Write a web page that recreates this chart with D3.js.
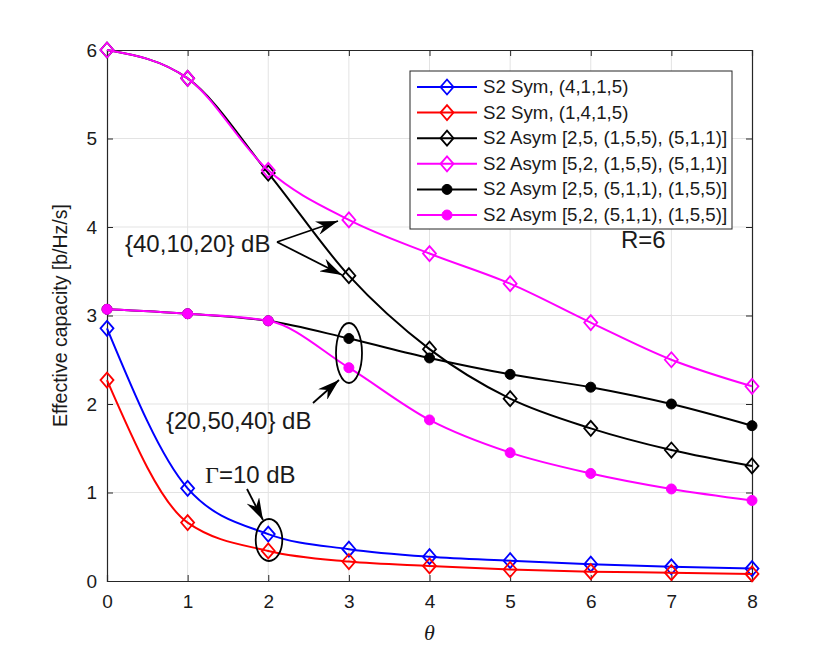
<!DOCTYPE html>
<html>
<head>
<meta charset="UTF-8">
<title>Effective capacity vs theta</title>
<script src="https://cdn.jsdelivr.net/npm/d3@7"></script>
<style>
  body { margin: 0; background: #fff; }
  text { font-family: "Liberation Sans", Arial, sans-serif; fill: #1a1a1a; }
</style>
</head>
<body>
<script>
// data
var theta = [0, 1, 2, 3, 4, 5, 6, 7, 8];
var symA  = [2.855, 1.047, 0.53, 0.36, 0.275, 0.23, 0.19, 0.16, 0.14];   // S2 Sym (4,1,1,5)
var symB  = [2.27, 0.66, 0.34, 0.22, 0.17, 0.13, 0.105, 0.094, 0.08];    // S2 Sym (1,4,1,5)
var asym1 = [6.0, 5.68, 4.61, 3.45, 2.62, 2.06, 1.725, 1.48, 1.30];      // black diamond
var asym2 = [6.0, 5.68, 4.64, 4.08, 3.70, 3.36, 2.92, 2.50, 2.20];       // magenta diamond
var asym3 = [3.07, 3.02, 2.94, 2.74, 2.52, 2.335, 2.19, 2.00, 1.755];    // black dot
var asym4 = [3.07, 3.02, 2.94, 2.41, 1.82, 1.45, 1.215, 1.04, 0.91];     // magenta dot
var xTicks = [0, 1, 2, 3, 4, 5, 6, 7, 8];
var yTicks = [0, 1, 2, 3, 4, 5, 6];

var series = [
  {name: "S2 Sym, (4,1,1,5)", vals: symA, color: "#0000ff", mark: "diamond"},
  {name: "S2 Sym, (1,4,1,5)", vals: symB, color: "#ff0000", mark: "diamond"},
  {name: "S2 Asym [2,5, (1,5,5), (5,1,1)]", vals: asym1, color: "#000000", mark: "diamond"},
  {name: "S2 Asym [5,2, (1,5,5), (5,1,1)]", vals: asym2, color: "#ff00ff", mark: "diamond"},
  {name: "S2 Asym [2,5, (5,1,1), (1,5,5)]", vals: asym3, color: "#000000", mark: "dot"},
  {name: "S2 Asym [5,2, (5,1,1), (1,5,5)]", vals: asym4, color: "#ff00ff", mark: "dot"}
];

var W = 830, H = 652;
var m = {left: 107, right: 78, top: 50, bottom: 71};
var iw = W - m.left - m.right, ih = H - m.top - m.bottom;

var svg = d3.select("body").append("svg")
  .attr("width", W).attr("height", H);

// arrow head, MATLAB "vback2" look
svg.append("defs").append("marker")
  .attr("id", "ah")
  .attr("viewBox", "0 0 22 14")
  .attr("refX", 22).attr("refY", 7)
  .attr("markerWidth", 22).attr("markerHeight", 14)
  .attr("markerUnits", "userSpaceOnUse")
  .attr("orient", "auto")
  .append("path")
  .attr("d", "M0,0 L22,7 L0,14 L7,7 Z")
  .attr("fill", "#000");

var x = d3.scaleLinear().domain([0, 8]).range([0, iw]);
var y = d3.scaleLinear().domain([0, 6]).range([ih, 0]);

var g = svg.append("g").attr("transform", "translate(" + m.left + "," + m.top + ")");

// grid
g.append("g").selectAll("line").data(xTicks.slice(1, -1)).enter().append("line")
  .attr("x1", function(d){ return x(d); }).attr("x2", function(d){ return x(d); })
  .attr("y1", 0).attr("y2", ih)
  .attr("stroke", "#e3e3e3").attr("stroke-width", 1);
g.append("g").selectAll("line").data(yTicks.slice(1, -1)).enter().append("line")
  .attr("y1", function(d){ return y(d); }).attr("y2", function(d){ return y(d); })
  .attr("x1", 0).attr("x2", iw)
  .attr("stroke", "#e3e3e3").attr("stroke-width", 1);

// axes (ticks inside, box on)
var axB = g.append("g").attr("transform", "translate(0," + ih + ")")
  .call(d3.axisBottom(x).tickValues(xTicks).tickSize(-6).tickPadding(14).tickFormat(d3.format("d")));
var axL = g.append("g")
  .call(d3.axisLeft(y).tickValues(yTicks).tickSize(-6).tickPadding(10).tickFormat(d3.format("d")));
var axT = g.append("g")
  .call(d3.axisTop(x).tickValues(xTicks).tickSize(-6).tickFormat(""));
var axR = g.append("g").attr("transform", "translate(" + iw + ",0)")
  .call(d3.axisRight(y).tickValues(yTicks).tickSize(-6).tickFormat(""));
[axB, axL, axT, axR].forEach(function(a){
  a.select(".domain").attr("stroke", "#262626").attr("stroke-width", 1.2);
  a.selectAll(".tick line").attr("stroke", "#262626");
  a.selectAll(".tick text").attr("font-size", 19).attr("fill", "#262626")
    .style("font-family", "'Liberation Sans', Arial, sans-serif");
});

// lines
var line = d3.line()
  .x(function(d, i){ return x(theta[i]); })
  .y(function(d){ return y(d); })
  .curve(d3.curveMonotoneX);

function drawMarker(sel, mark, color, cx, cy) {
  if (mark === "diamond") {
    sel.append("path")
      .attr("d", "M" + cx + "," + (cy - 7.5) + " L" + (cx + 6.5) + "," + cy +
                 " L" + cx + "," + (cy + 7.5) + " L" + (cx - 6.5) + "," + cy + " Z")
      .attr("fill", "none").attr("stroke", color).attr("stroke-width", 1.8);
  } else {
    sel.append("circle").attr("cx", cx).attr("cy", cy).attr("r", 5)
      .attr("fill", color).attr("stroke", color);
  }
}

series.forEach(function(s){
  var sg = g.append("g");
  sg.append("path").datum(s.vals)
    .attr("d", line).attr("fill", "none")
    .attr("stroke", s.color).attr("stroke-width", 2);
  s.vals.forEach(function(v, i){
    drawMarker(sg, s.mark, s.color, x(theta[i]), y(v));
  });
});

// annotations
var ann = svg.append("g");
ann.append("text").attr("x", 125).attr("y", 252).attr("font-size", 24).attr("fill", "#000").text("{40,10,20} dB");
ann.append("line").attr("x1", 277).attr("y1", 242).attr("x2", 338).attr("y2", 221)
  .attr("stroke", "#000").attr("stroke-width", 1.8).attr("marker-end", "url(#ah)");
ann.append("line").attr("x1", 277).attr("y1", 242).attr("x2", 342).attr("y2", 275)
  .attr("stroke", "#000").attr("stroke-width", 1.8).attr("marker-end", "url(#ah)");

ann.append("text").attr("x", 621).attr("y", 248).attr("font-size", 24).attr("fill", "#000").text("R=6");

ann.append("ellipse").attr("cx", 349).attr("cy", 353).attr("rx", 13).attr("ry", 30)
  .attr("fill", "none").attr("stroke", "#000").attr("stroke-width", 1.8);
ann.append("line").attr("x1", 313).attr("y1", 403).attr("x2", 339).attr("y2", 380)
  .attr("stroke", "#000").attr("stroke-width", 1.8).attr("marker-end", "url(#ah)");
ann.append("text").attr("x", 166).attr("y", 429).attr("font-size", 24).attr("fill", "#000").text("{20,50,40} dB");

var gt = ann.append("text").attr("x", 205).attr("y", 483).attr("font-size", 24).attr("fill", "#000");
gt.append("tspan").style("font-family", "'Liberation Serif', 'Times New Roman', serif").text("Γ");
gt.append("tspan").text("=10 dB");
ann.append("line").attr("x1", 247).attr("y1", 489).attr("x2", 263).attr("y2", 520)
  .attr("stroke", "#000").attr("stroke-width", 1.8).attr("marker-end", "url(#ah)");
ann.append("ellipse").attr("cx", 269).attr("cy", 540).attr("rx", 13.3).attr("ry", 21)
  .attr("fill", "none").attr("stroke", "#000").attr("stroke-width", 1.8);

// axis labels
svg.append("text")
  .attr("transform", "translate(67," + (m.top + ih / 2) + ") rotate(-90)")
  .attr("text-anchor", "middle").attr("font-size", 19.5).attr("fill", "#262626")
  .text("Effective capacity [b/Hz/s]");
svg.append("text")
  .attr("x", m.left + iw / 2).attr("y", 640)
  .attr("text-anchor", "middle").attr("font-size", 22)
  .style("font-family", "'Liberation Serif', 'Times New Roman', serif")
  .style("font-style", "italic").attr("fill", "#262626")
  .text("θ");

// legend
var lg = svg.append("g").attr("transform", "translate(410,71)");
lg.append("rect").attr("width", 322).attr("height", 158)
  .attr("fill", "#fff").attr("stroke", "#262626").attr("stroke-width", 1);
series.forEach(function(s, i){
  var ly = 16 + i * 25.6;
  lg.append("line").attr("x1", 7).attr("x2", 67).attr("y1", ly).attr("y2", ly)
    .attr("stroke", s.color).attr("stroke-width", 2);
  drawMarker(lg, s.mark, s.color, 37, ly);
  lg.append("text").attr("x", 73).attr("y", ly + 6).attr("font-size", 18.7).attr("fill", "#000").text(s.name);
});
</script>
</body>
</html>
